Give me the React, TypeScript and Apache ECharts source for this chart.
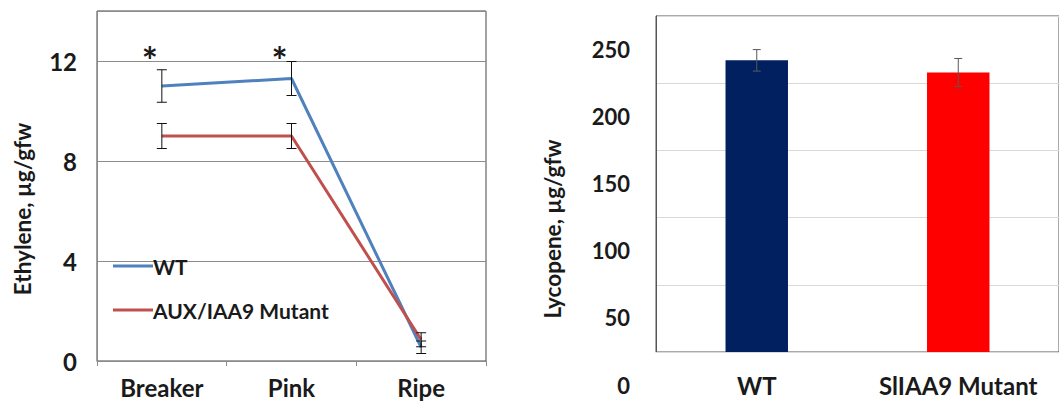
import React, { useEffect, useRef } from "react";
import * as echarts from "echarts";

// Left chart: ethylene by ripening stage
const stages = ["Breaker", "Pink", "Ripe"];
const wtEthylene = [11.0, 11.3, 0.55];
const wtEthyleneErr = [0.65, 0.68, 0.25];
const mutEthylene = [9.0, 9.0, 0.85];
const mutEthyleneErr = [0.5, 0.5, 0.28];
const significance = ["*", "*", ""];
const starLevel = [12.35, 12.35, 0];
const ethyleneTicks = [0, 4, 8, 12];

// Right chart: lycopene
const genotypes = ["WT", "SlIAA9 Mutant"];
const lycopene = [217, 208];
const lycopeneErr = [8, 10.4];
const lycopeneColors = ["#002060", "#FF0000"];
const lycopeneTicks = [0, 50, 100, 150, 200, 250];

const FONT = "Lato, 'Open Sans', sans-serif";
const TXT = "#1a1a1a";

function errorSeries(
  name: string,
  xAxisIndex: number,
  yAxisIndex: number,
  vals: number[],
  errs: number[],
  color: string,
  capHalf: number
) {
  return {
    name,
    type: "custom",
    xAxisIndex,
    yAxisIndex,
    z: 5,
    silent: true,
    data: vals.map((v, i) => [i, v - errs[i], v + errs[i]]),
    encode: { x: 0, y: [1, 2] },
    renderItem: (_params: any, api: any) => {
      const i = api.value(0);
      const lo = api.coord([i, api.value(1)]);
      const hi = api.coord([i, api.value(2)]);
      const style = { stroke: color, lineWidth: 1 };
      return {
        type: "group",
        children: [
          { type: "line", shape: { x1: hi[0], y1: hi[1], x2: lo[0], y2: lo[1] }, style },
          { type: "line", shape: { x1: hi[0] - capHalf, y1: hi[1], x2: hi[0] + capHalf, y2: hi[1] }, style },
          { type: "line", shape: { x1: lo[0] - capHalf, y1: lo[1], x2: lo[0] + capHalf, y2: lo[1] }, style },
        ],
      };
    },
  };
}

export default function App() {
  const ref = useRef<HTMLDivElement>(null);
  useEffect(() => {
    if (!ref.current) return;
    const chart = echarts.init(ref.current, null, { renderer: "svg" });
    const ethMax = 14;
    const lycMax = 250;
    chart.setOption({
      animation: false,
      backgroundColor: "#ffffff",
      textStyle: { fontFamily: FONT },
      grid: [
        { left: 97, top: 11, width: 389, height: 350, show: true, borderColor: "#444", borderWidth: 1 },
        { left: 656, top: 16, width: 405, height: 336, show: true, borderColor: "#555", borderWidth: 1 },
      ],
      legend: {
        data: ["WT", "AUX/IAA9 Mutant"],
        orient: "vertical",
        left: 108,
        top: 250,
        itemWidth: 40,
        itemHeight: 3,
        itemGap: 22,
        icon: "rect",
        textStyle: { fontFamily: FONT, fontWeight: "bold", fontSize: 21, color: TXT, lineHeight: 22, padding: [0, 0, 0, -5] },
      },
      xAxis: [
        {
          type: "category",
          gridIndex: 0,
          data: stages,
          boundaryGap: true,
          axisLine: { lineStyle: { color: "#8c8c8c", width: 1 } },
          axisTick: { show: true, length: 5, lineStyle: { color: "#8c8c8c" } },
          axisLabel: { interval: 0, fontFamily: FONT, fontWeight: "bold", fontSize: 24, color: TXT, margin: 14 },
        },
        {
          type: "category",
          gridIndex: 1,
          data: genotypes,
          boundaryGap: true,
          axisLine: { lineStyle: { color: "#d9d9d9", width: 1 } },
          axisTick: { show: false },
          axisLabel: { interval: 0, hideOverlap: false, fontFamily: FONT, fontWeight: "bold", fontSize: 24, color: TXT, margin: 21 },
        },
      ],
      yAxis: [
        {
          type: "value",
          gridIndex: 0,
          min: 0,
          max: ethMax,
          interval: 4,
          axisLine: { show: true, lineStyle: { color: "#8c8c8c" } },
          axisTick: { show: false },
          splitLine: { lineStyle: { color: "#8c8c8c", width: 1 } },
          axisLabel: {
            fontFamily: FONT,
            fontWeight: "bold",
            fontSize: 24,
            color: TXT,
            margin: 20,
            formatter: (v: number) => (ethyleneTicks.includes(v) ? String(v) : ""),
          },
        },
        {
          type: "value",
          gridIndex: 1,
          min: 0,
          max: lycMax,
          interval: 50,
          axisLine: { show: true, lineStyle: { color: "#555" } },
          axisTick: { show: false },
          splitLine: { lineStyle: { color: "#d9d9d9", width: 1 } },
          axisLabel: {
            fontFamily: FONT,
            fontWeight: "bold",
            fontSize: 22,
            color: TXT,
            margin: 26,
            verticalAlign: "top",
            lineHeight: 22,
            padding: [22, 0, 0, 0],
            formatter: (v: number) => (lycopeneTicks.includes(v) ? String(v) : ""),
          },
        },
      ],
      series: [
        {
          name: "WT",
          type: "line",
          xAxisIndex: 0,
          yAxisIndex: 0,
          data: wtEthylene,
          symbol: "none",
          lineStyle: { color: "#4F81BD", width: 3 },
          itemStyle: { color: "#4F81BD" },
          z: 3,
        },
        {
          name: "AUX/IAA9 Mutant",
          type: "line",
          xAxisIndex: 0,
          yAxisIndex: 0,
          data: mutEthylene,
          symbol: "none",
          lineStyle: { color: "#C0504D", width: 3 },
          itemStyle: { color: "#C0504D" },
          z: 4,
        },
        errorSeries("wtErr", 0, 0, wtEthylene, wtEthyleneErr, "#111", 5),
        errorSeries("mutErr", 0, 0, mutEthylene, mutEthyleneErr, "#111", 5),
        {
          name: "sig",
          type: "custom",
          xAxisIndex: 0,
          yAxisIndex: 0,
          silent: true,
          z: 6,
          data: starLevel.map((v, i) => [i, v]),
          encode: { x: 0, y: 1 },
          renderItem: (params: any, api: any) => {
            const i = api.value(0);
            const p = api.coord([i, api.value(1)]);
            return {
              type: "text",
              x: p[0] - 12,
              y: p[1] + 8,
              style: {
                text: significance[params.dataIndex],
                fontFamily: FONT,
                fontWeight: "bold",
                fontSize: 38,
                fill: TXT,
                textAlign: "center",
                textVerticalAlign: "middle",
              },
            };
          },
        },
        {
          name: "Lycopene",
          type: "bar",
          xAxisIndex: 1,
          yAxisIndex: 1,
          barWidth: "31%",
          data: lycopene.map((v, i) => ({ value: v, itemStyle: { color: lycopeneColors[i] } })),
        },
        errorSeries("lycErr", 1, 1, lycopene, lycopeneErr, "#595959", 4),
      ],
      graphic: [
        {
          type: "text",
          x: 22,
          y: 209,
          rotation: Math.PI / 2,
          style: {
            text: "Ethylene, µg/gfw",
            fontFamily: FONT,
            fontWeight: "bold",
            fontSize: 22.5,
            fill: TXT,
            textAlign: "center",
            textVerticalAlign: "middle",
          },
        },
        {
          type: "text",
          x: 552,
          y: 229,
          rotation: Math.PI / 2,
          style: {
            text: "Lycopene, µg/gfw",
            fontFamily: FONT,
            fontWeight: "bold",
            fontSize: 22.5,
            fill: TXT,
            textAlign: "center",
            textVerticalAlign: "middle",
          },
        },
      ],
    });
    return () => chart.dispose();
  }, []);
  return <div ref={ref} style={{ width: 1059, height: 402, position: "fixed", left: 0, top: 0 }} />;
}
